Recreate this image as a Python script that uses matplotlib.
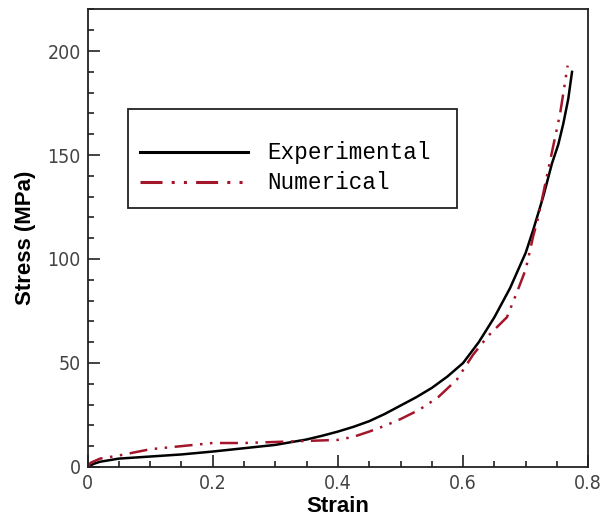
import matplotlib
matplotlib.use("Agg")
import matplotlib.pyplot as plt
from matplotlib.patches import Rectangle
from matplotlib.lines import Line2D
from matplotlib.ticker import MultipleLocator

# Experimental stress-strain curve
exp_strain = [0.0, 0.01, 0.02, 0.05, 0.1, 0.15, 0.2, 0.25, 0.3, 0.35, 0.375, 0.4,
              0.425, 0.45, 0.475, 0.5, 0.525, 0.55, 0.575, 0.6, 0.625, 0.65, 0.675,
              0.7, 0.712, 0.728, 0.742, 0.752, 0.76, 0.768, 0.774]
exp_stress = [0, 1.5, 2.5, 4, 5, 6, 7.4, 9, 10.6, 13.2, 15, 17,
              19.3, 22, 25.5, 29.5, 33.5, 38, 43.5, 50, 60, 72, 86,
              103, 114, 130, 146, 155, 165, 177, 190]

# Numerical curve
num_strain = [0.0, 0.005, 0.02, 0.05, 0.1, 0.15, 0.2, 0.25, 0.3, 0.35, 0.4, 0.425,
              0.45, 0.475, 0.5, 0.53, 0.56, 0.59, 0.616, 0.64, 0.67, 0.686, 0.7,
              0.712, 0.72, 0.736, 0.755, 0.767]
num_stress = [0, 2, 4, 5.5, 8.5, 10, 11.5, 11.5, 12, 12.5, 13, 14.5,
              17, 19.8, 23, 27.5, 33.5, 42, 54, 63, 72, 84, 95,
              111, 120, 143, 170, 193]

labels = ["Experimental", "Numerical"]
exp_color = "black"
num_color = "#a3162a"
num_dashes = (7.2, 3, 1, 3, 1, 3)

fig = plt.figure(figsize=(6.04, 5.27), dpi=100)
ax = fig.add_axes([0.145, 0.114, 0.829, 0.868])

ax.plot(exp_strain, exp_stress, color=exp_color, lw=1.8)
ax.plot(num_strain, num_stress, color=num_color, lw=1.8, dashes=num_dashes)

ax.set_xlim(0, 0.8)
ax.set_ylim(0, 220)
ax.xaxis.set_minor_locator(MultipleLocator(0.05))
ax.yaxis.set_minor_locator(MultipleLocator(10))
ax.set_xticks([0, 0.2, 0.4, 0.6, 0.8])
ax.set_xticklabels(["0", "0.2", "0.4", "0.6", "0.8"])
ax.set_yticks([0, 50, 100, 150, 200])
ax.set_yticklabels(["0", "50", "100", "150", "200"])

ax.tick_params(which="both", direction="in", top=False, right=False,
               color="#222222", width=1.2)
ax.tick_params(which="major", length=8.5, labelsize=14, labelcolor="#444444", pad=5)
ax.tick_params(which="minor", length=4.3)
for lab in ax.get_xticklabels() + ax.get_yticklabels():
    lab.set_fontstretch("condensed")

for sp in ax.spines.values():
    sp.set_linewidth(1.3)
    sp.set_color("#222222")

ax.set_xlabel("Strain", fontsize=16, fontweight="bold", family="Liberation Sans", labelpad=2)
ax.set_ylabel("Stress (MPa)", fontsize=16, fontweight="bold", family="Liberation Sans", labelpad=8)

# legend box drawn by hand to match the original layout
ax.add_patch(Rectangle((0.08, 0.566), 0.658, 0.216, transform=ax.transAxes,
                       fill=False, edgecolor="#222222", lw=1.3, zorder=5))
ax.add_line(Line2D([0.104, 0.32], [0.688, 0.688], transform=ax.transAxes,
                   color=exp_color, lw=2.2, zorder=5))
ax.add_line(Line2D([0.104, 0.32], [0.622, 0.622], transform=ax.transAxes,
                   color=num_color, lw=2.2, dashes=num_dashes, zorder=5))
ax.text(0.358, 0.688, labels[0], transform=ax.transAxes, va="center", ha="left",
        family="Liberation Mono", fontsize=16.3, zorder=5)
ax.text(0.358, 0.622, labels[1], transform=ax.transAxes, va="center", ha="left",
        family="Liberation Mono", fontsize=16.3, zorder=5)

fig.savefig("out.png", dpi=100)
